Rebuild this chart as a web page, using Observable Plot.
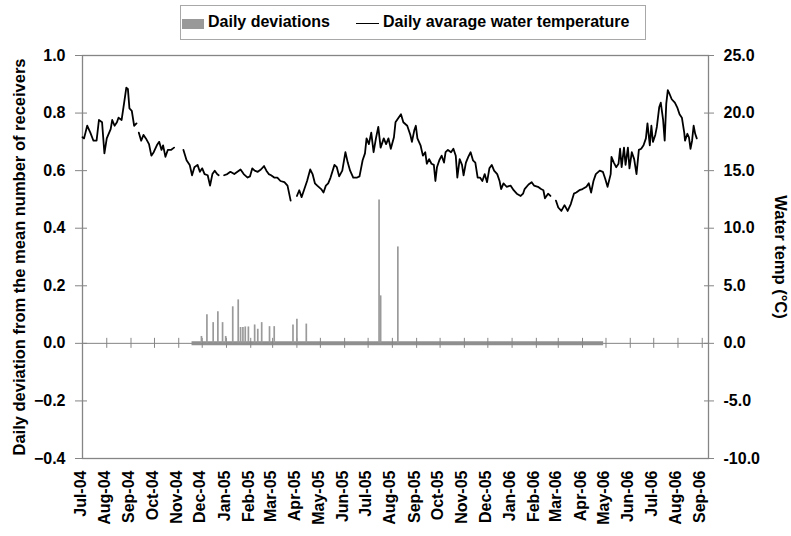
<!DOCTYPE html>
<html>
<head>
<meta charset="utf-8">
<script src="https://cdn.jsdelivr.net/npm/d3@7"></script>
<script src="https://cdn.jsdelivr.net/npm/@observablehq/plot@0.6"></script>
<style>
  body { margin: 0; background: white; }
  #wrap { position: relative; width: 791px; height: 536px; font-family: "Liberation Sans", Arial, sans-serif; font-weight: bold; }
  #legend { position: absolute; left: 180px; top: 5px; width: 464px; height: 33px; border: 1px solid #a8a8a8; background: white; font-size: 16px; color: #000; }
  #legend .sw { position: absolute; top: 13px; left: 1px; width: 22px; height: 10px; background: #999; }
  #legend .ln { position: absolute; top: 17px; left: 175px; width: 23px; height: 0; border-top: 1.6px solid #000; }
  #legend .t1 { position: absolute; left: 27px; top: 7px; }
  #legend .t2 { position: absolute; left: 202px; top: 7px; }
</style>
</head>
<body>
<div id="wrap">
  <div id="chart"></div>
  <div id="legend">
    <div class="sw"></div><span class="t1">Daily deviations</span>
    <div class="ln"></div><span class="t2">Daily avarage water temperature</span>
  </div>
</div>
<script>
// ---------- data ----------
const seriesStart = "2004-07-01"; // day 0 of the temperature record
const xDomain = ["2004-07-01", "2006-09-09"];
const monthTicks = ["2004-07-01","2004-08-01","2004-09-01","2004-10-01","2004-11-01","2004-12-01",
  "2005-01-01","2005-02-01","2005-03-01","2005-04-01","2005-05-01","2005-06-01","2005-07-01",
  "2005-08-01","2005-09-01","2005-10-01","2005-11-01","2005-12-01","2006-01-01","2006-02-01",
  "2006-03-01","2006-04-01","2006-05-01","2006-06-01","2006-07-01","2006-08-01","2006-09-01"];
const yTicks = [-0.4, -0.2, 0.0, 0.2, 0.4, 0.6, 0.8, 1.0];
const tempPerUnit = 25; // right axis: 1.0 on the left axis = 25 °C

// daily deviations (bars)
const devDates = ["2004-11-30","2004-12-07","2004-12-15","2004-12-21","2004-12-27","2004-12-31",
  "2005-01-09","2005-01-16","2005-01-19","2005-01-22","2005-01-25","2005-01-29","2005-02-06",
  "2005-02-10","2005-02-15","2005-02-25","2005-03-03","2005-03-27","2005-04-01","2005-04-13",
  "2005-07-15","2005-07-17","2005-08-08"];
const devValues = [0.024,0.099,0.072,0.110,0.072,0.024,
  0.127,0.151,0.055,0.055,0.057,0.057,0.064,
  0.049,0.072,0.058,0.058,0.064,0.084,0.067,
  0.498,0.165,0.335];
// period with near-zero deviations every day
const nearZeroStart = ["2004-11-18"];
const nearZeroEnd = ["2006-04-28"];

// daily average water temperature (°C), day = days since seriesStart, null = no record
const tempDay = [0,2,6,10,14,18,21,25,28,31,36,38,41,44,46,50,53,56,58,60,63,66,69,70,
  72,75,78,81,85,88,91,95,98,101,103,106,109,113,117,123,
  129,133,137,140,143,147,150,153,156,160,163,166,169,172,174,177,
  181,185,189,194,198,202,206,211,214,217,220,224,228,232,235,238,241,245,249,253,258,262,266,270,
  274,277,280,283,287,291,294,297,300,305,308,311,314,317,322,325,328,332,336,339,342,346,351,354,
  358,361,363,366,369,372,375,378,381,385,388,391,394,398,400,403,407,410,415,419,
  421,424,426,428,432,435,438,440,443,446,449,451,453,456,459,462,464,467,471,474,477,479,482,485,
  487,490,493,496,499,502,505,508,511,514,517,520,523,526,530,533,535,538,542,547,551,555,560,563,
  565,570,574,577,582,586,589,591,595,598,601,
  605,608,612,616,620,624,628,631,635,639,644,647,650,653,656,661,665,668,671,675,676,679,682,685,
  687,689,692,694,697,699,702,705,708,711,714,717,720,722,725,727,729,732,734,737,739,742,744,746,
  748,750,753,757,760,763,766,769,770,773,775,777,779,781,783,785];
const tempC = [17.9,17.8,18.9,18.3,17.6,17.6,19.4,19.2,16.5,17.8,18.6,19.4,18.9,19.2,19.6,19.4,20.8,22.2,22.1,20.4,20.2,18.9,19.1,null,
  18.3,17.6,18.1,17.8,17.3,16.3,16.6,17.2,17.5,16.8,17.2,16.2,16.8,16.8,17.0,null,
  16.8,15.9,15.5,14.6,15.3,15.5,14.9,15.2,14.7,14.6,13.7,14.7,15.0,14.7,14.6,null,
  14.6,14.7,14.9,14.7,14.9,15.1,14.7,14.4,14.5,15.2,15.0,14.9,15.1,15.4,15.0,14.7,14.6,14.4,14.4,14.1,14.0,13.7,12.4,null,
  12.8,13.3,12.7,13.3,14.1,15.1,14.7,13.9,13.7,13.4,13.1,13.7,13.9,14.4,15.5,15.3,14.5,15.0,16.6,15.7,15.0,14.4,14.4,14.5,
  15.9,16.5,17.8,17.3,18.3,16.6,17.8,18.8,17.0,17.8,17.3,17.8,16.9,17.9,19.2,19.5,19.9,19.2,18.9,18.1,
  17.5,18.5,18.9,17.8,17.2,16.3,16.6,15.6,16.0,15.6,15.5,14.1,15.3,15.9,16.3,15.7,16.6,16.8,16.6,16.9,16.3,14.4,16.0,15.5,
  14.6,15.7,16.2,16.6,15.9,15.7,14.4,14.4,14.1,14.7,14.0,15.2,15.5,15.0,14.7,14.1,13.4,13.9,13.6,13.7,13.3,13.0,12.8,13.0,
  13.4,13.8,14.0,13.7,13.6,13.4,13.3,12.6,13.0,12.8,null,
  12.4,11.8,11.5,12.0,11.5,12.1,13.0,13.1,13.3,13.4,13.6,13.9,13.1,14.1,14.7,15.0,14.9,14.3,13.6,14.7,16.2,15.7,15.3,15.6,
  16.9,15.3,17.0,15.5,17.0,15.2,16.6,16.0,14.7,16.8,16.9,17.2,17.8,19.1,17.2,18.9,17.5,18.1,18.8,20.5,20.9,19.4,17.6,20.8,
  22.0,21.7,21.2,20.9,20.5,19.9,19.6,18.3,17.6,18.2,17.9,16.9,17.6,18.9,18.2,17.8];

// ---------- build tables ----------
const parse = d3.utcParse("%Y-%m-%d");
const start = parse(seriesStart);
const temps = tempDay.map((d, i) => ({date: d3.utcDay.offset(start, d), t: tempC[i]}));
const devs = devDates.map((d, i) => ({date: parse(d), v: devValues[i]}));
const band = nearZeroStart.map((s, i) => ({x1: parse(s), x2: parse(nearZeroEnd[i])}));
const months = monthTicks.map(parse);

const font = "Liberation Sans, Arial, sans-serif";
const axisGray = "#858585";

const chart = Plot.plot({
  width: 791,
  height: 536,
  marginLeft: 82,
  marginRight: 83,
  marginTop: 55,
  marginBottom: 78,
  style: {fontFamily: font, fontSize: "16px", fontWeight: "bold", color: "black", background: "white", overflow: "visible"},
  x: {type: "utc", domain: xDomain.map(parse)},
  y: {domain: [-0.4, 1.0]},
  marks: [
    Plot.frame({stroke: axisGray, strokeWidth: 1.3}),
    // zero line
    Plot.ruleY([0], {stroke: axisGray, strokeWidth: 1}),
    // near-zero deviations band
    Plot.ruleY(band, {y: () => 0, x1: "x1", x2: "x2", stroke: "#8f8f8f", strokeWidth: 4}),
    // month ticks crossing the zero line
    Plot.ruleX(months, {x: d => d, y1: () => 0, y2: () => 0, insetTop: -5, insetBottom: -5, stroke: axisGray, strokeWidth: 1}),
    // deviation bars
    Plot.ruleX(devs, {x: "date", y1: () => 0, y2: "v", stroke: "#9a9a9a", strokeWidth: 1.7}),
    // temperature line
    Plot.line(temps, {x: "date", y: d => d.t == null ? NaN : d.t / tempPerUnit, stroke: "black", strokeWidth: 1.8}),
    // left axis
    Plot.axisY({ticks: yTicks, tickFormat: d3.format(".1f"), tickSize: 7, tickPadding: 10, stroke: axisGray, fill: "black", fontSize: 16, fontWeight: "bold", label: null}),
    Plot.axisY({ticks: yTicks, tickFormat: () => "", tickSize: 5, dx: 5, stroke: axisGray, label: null}),
    // right axis
    Plot.axisY({anchor: "right", ticks: yTicks, tickFormat: d => (d * tempPerUnit).toFixed(1), tickSize: 5, tickPadding: 10, stroke: axisGray, fill: "black", fontSize: 16, fontWeight: "bold", label: null}),
    Plot.axisY({anchor: "right", ticks: yTicks, tickFormat: () => "", tickSize: 5, dx: -5, stroke: axisGray, label: null}),
    // bottom axis labels
    Plot.axisX({ticks: months, tickFormat: d3.utcFormat("%b-%y"), tickRotate: -90, tickSize: 0, tickPadding: 12, dx: -2, fill: "black", fontSize: 16, fontWeight: "bold", label: null}),
    // axis titles
    Plot.text(["Daily deviation from the mean number of receivers"], {frameAnchor: "left", textAnchor: "middle", rotate: -90, dx: -63, fontSize: 16.5, fontWeight: "bold", fill: "black"}),
    Plot.text(["Water temp (°C)"], {frameAnchor: "right", textAnchor: "middle", rotate: 90, dx: 72, fontSize: 16.5, fontWeight: "bold", fill: "black"})
  ]
});
document.getElementById("chart").appendChild(chart);
</script>
</body>
</html>
